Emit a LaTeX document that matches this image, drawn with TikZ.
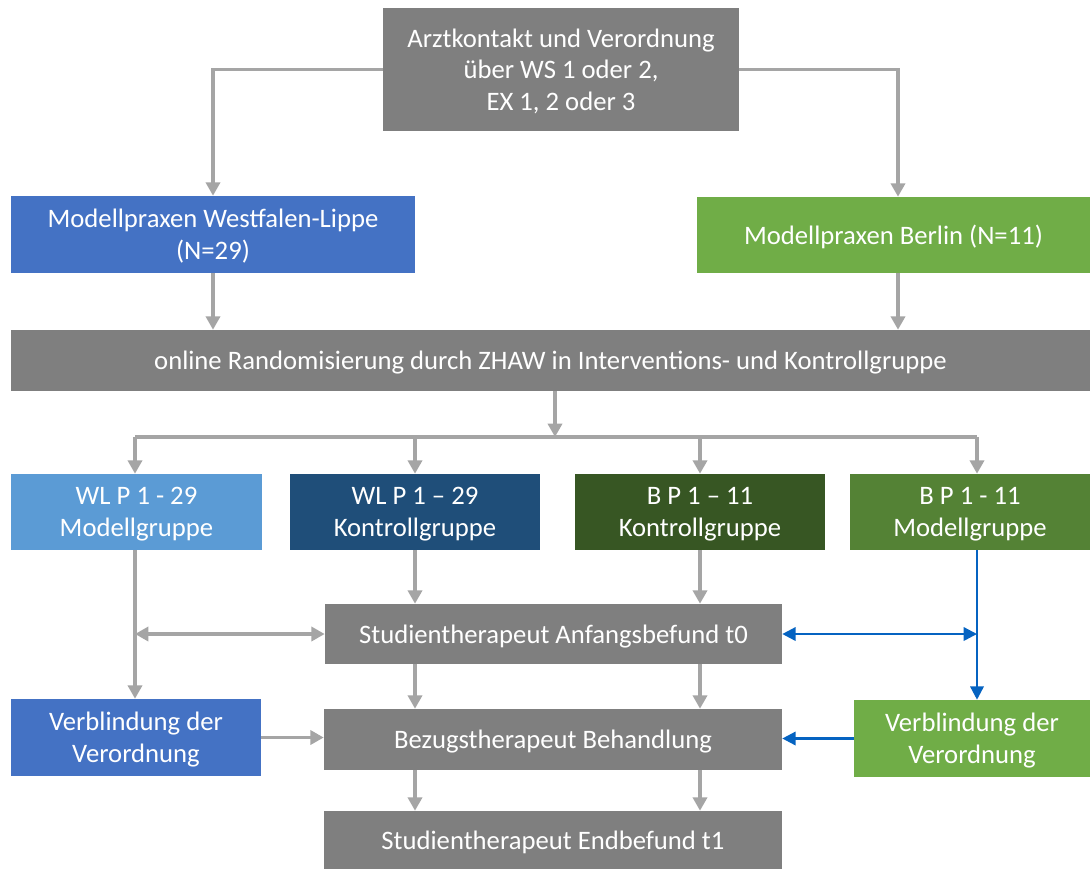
\documentclass[tikz,border=0pt]{standalone}
\usepackage{fontspec}
\setmainfont{Carlito}
\usetikzlibrary{arrows.meta,calc}
\definecolor{boxgray}{HTML}{7F7F7F}
\definecolor{arrgray}{HTML}{A5A5A5}
\definecolor{wlblue}{HTML}{4472C4}
\definecolor{lblue}{HTML}{5B9BD5}
\definecolor{dblue}{HTML}{1F4E79}
\definecolor{bgreen}{HTML}{70AD47}
\definecolor{dgreen}{HTML}{375623}
\definecolor{mgreen}{HTML}{548235}
\definecolor{barrow}{HTML}{0563C1}
\tikzset{
  box/.style={rectangle, inner sep=0pt, text=white, align=center, text depth=-1pt,
    font=\fontsize{20pt}{23.8pt}\selectfont},
  gline/.style={draw=arrgray, line width=2.8pt},
  garr/.style={gline, -{Triangle[length=10pt,width=10.5pt]}},
  garrd/.style={gline, {Triangle[length=10pt,width=10.5pt]}-{Triangle[length=10pt,width=10.5pt]}},
  bline/.style={draw=barrow, line width=1.8pt},
  barr/.style={bline, -{Triangle[length=10pt,width=10pt]}},
  barrd/.style={bline, {Triangle[length=10pt,width=10pt]}-{Triangle[length=10pt,width=10pt]}},
}
\begin{document}
\begin{tikzpicture}[x=0.75pt,y=-0.75pt]
\useasboundingbox (0,0) rectangle (1091,869);
% boxes
\node[box, fill=boxgray, minimum width=267pt, minimum height=92.25pt] (top) at (561,69.5)
  {Arztkontakt und Verordnung\\über WS 1 oder 2,\\EX 1, 2 oder 3};
\node[box, fill=wlblue, minimum width=303pt, minimum height=57.75pt] (wl) at (213,234.5)
  {Modellpraxen Westfalen-Lippe\\(N=29)};
\node[box, fill=bgreen, minimum width=294.75pt, minimum height=57pt] (be) at (893.5,235)
  {Modellpraxen Berlin (N=11)};
\node[box, fill=boxgray, minimum width=809.25pt, minimum height=45.75pt] (rand) at (550.5,360.5)
  {online Randomisierung durch ZHAW in Interventions- und Kontrollgruppe};
\node[box, fill=lblue, minimum width=188.25pt, minimum height=57pt] (wlm) at (136.5,512)
  {WL P 1 - 29\\Modellgruppe};
\node[box, fill=dblue, minimum width=187.5pt, minimum height=57pt] (wlk) at (415,512)
  {WL P 1 – 29\\Kontrollgruppe};
\node[box, fill=dgreen, minimum width=187.5pt, minimum height=57pt] (bk) at (700,512)
  {B P 1 – 11\\Kontrollgruppe};
\node[box, fill=mgreen, minimum width=180pt, minimum height=57pt] (bm) at (970,512)
  {B P 1 - 11\\Modellgruppe};
\node[box, fill=boxgray, minimum width=342.75pt, minimum height=45pt] (t0) at (553.5,634)
  {Studientherapeut Anfangsbefund t0};
\node[box, fill=boxgray, minimum width=343.5pt, minimum height=45.75pt] (bez) at (553,739.5)
  {Bezugstherapeut Behandlung};
\node[box, fill=boxgray, minimum width=343.5pt, minimum height=43.5pt] (end) at (553,840)
  {Studientherapeut Endbefund t1};
\node[box, fill=wlblue, minimum width=187.5pt, minimum height=57.75pt] (vl) at (136,737.5)
  {Verblindung der\\Verordnung};
\node[box, fill=bgreen, minimum width=177pt, minimum height=57.75pt] (vr) at (972,738.5)
  {Verblindung der\\Verordnung};
% helper coordinates
\coordinate (bex) at (898,0);
\coordinate (hub) at (555,437);
\coordinate (h1) at (135,437);
\coordinate (h2) at (415,437);
\coordinate (h3) at (700,437);
\coordinate (h4) at (977,437);
\coordinate (j1) at (135,634);
\coordinate (j4) at (977,634);
% connectors top
\draw[garr] (top.west) -| (wl.north);
\draw[garr] (top.east) -| (bex |- be.north);
\draw[garr] (wl.south) -- (wl.south |- rand.north);
\draw[garr] (bex |- be.south) -- (bex |- rand.north);
\draw[garr] (hub |- rand.south) -- (hub);
\draw[gline] (h1) -- (h4);
\draw[garr] (h1) -- (h1 |- wlm.north);
\draw[garr] (h2) -- (h2 |- wlk.north);
\draw[garr] (h3) -- (h3 |- bk.north);
\draw[garr] (h4) -- (h4 |- bm.north);
% lower connectors
\draw[garr] (h1 |- wlm.south) -- (h1 |- vl.north);
\draw[garrd] (j1) -- (t0.west);
\draw[garr] (h2 |- wlk.south) -- (h2 |- t0.north);
\draw[garr] (h3 |- bk.south) -- (h3 |- t0.north);
\draw[garr] (h2 |- t0.south) -- (h2 |- bez.north);
\draw[garr] (h3 |- t0.south) -- (h3 |- bez.north);
\draw[garr] (h2 |- bez.south) -- (h2 |- end.north);
\draw[garr] (h3 |- bez.south) -- (h3 |- end.north);
\draw[garr] (vl.east) -- (vl.east -| bez.west);
\draw[barr] (h4 |- bm.south) -- (h4 |- vr.north);
\draw[barrd] (t0.east) -- (j4);
\draw[barr] (vr.west) -- (vr.west -| bez.east);
\end{tikzpicture}
\end{document}
